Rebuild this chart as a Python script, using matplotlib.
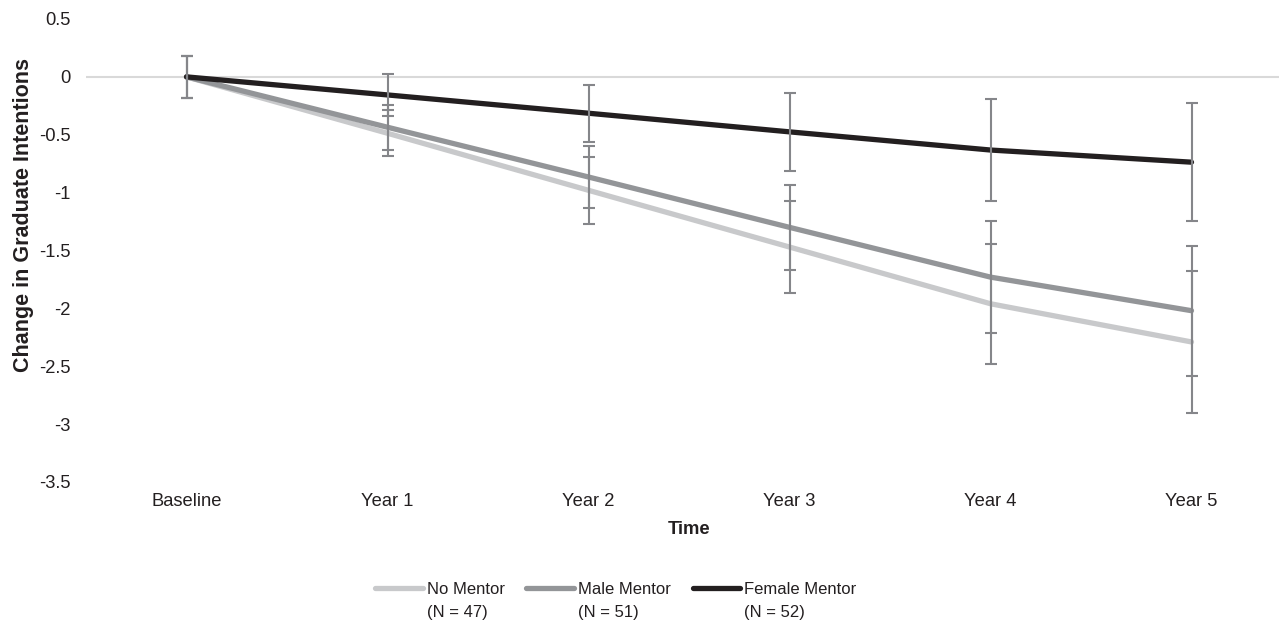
import numpy as np
import matplotlib.pyplot as plt

plt.rcParams['font.family'] = ['Liberation Sans', 'DejaVu Sans']

# data
time_labels = ["Baseline", "Year 1", "Year 2", "Year 3", "Year 4", "Year 5"]
series_names = ["No Mentor", "Male Mentor", "Female Mentor"]
series_n = ["(N = 47)", "(N = 51)", "(N = 52)"]

no_mentor = [0, -0.487, -0.98, -1.47, -1.96, -2.29]
male_mentor = [0, -0.435, -0.865, -1.30, -1.73, -2.02]
female_mentor = [0, -0.156, -0.314, -0.475, -0.632, -0.737]

no_mentor_err = [0.18, 0.20, 0.29, 0.40, 0.52, 0.61]
male_mentor_err = [0.18, 0.195, 0.27, 0.37, 0.485, 0.56]
female_mentor_err = [0.18, 0.18, 0.245, 0.34, 0.44, 0.51]

colors = ["#c8c9cb", "#939598", "#231f20"]
err_color = "#85868a"
text_color = "#231f20"
fs = 13.2
leg_fs = 12

x = np.arange(len(time_labels))

fig = plt.figure(figsize=(12.79, 6.2), dpi=100)
ax = fig.add_axes([86 / 1279, 138 / 620, 1206 / 1279, 463 / 620])

values = [no_mentor, male_mentor, female_mentor]
errors = [no_mentor_err, male_mentor_err, female_mentor_err]

ax.axhline(0, color="#d9d9d9", linewidth=1.5, zorder=1)

for vals, col, name in zip(values, colors, series_names):
    ax.plot(x, vals, color=col, linewidth=3.8, solid_capstyle="round",
            solid_joinstyle="round", label=name, zorder=3)

for vals, errs in zip(values, errors):
    ax.errorbar(x, vals, yerr=errs, fmt="none", ecolor=err_color,
                elinewidth=1.5, capsize=4.3, capthick=1.5, zorder=4)

ax.set_xlim(-0.5, 5.5)
ax.set_ylim(-3.5, 0.5)
ax.set_yticks(np.arange(-3.5, 0.51, 0.5))
ax.set_yticklabels(["-3.5", "-3", "-2.5", "-2", "-1.5", "-1", "-0.5", "0", "0.5"])
ax.set_xticks(x)
ax.set_xticklabels(time_labels)
ax.tick_params(axis="both", length=0, labelsize=fs, colors=text_color)
ax.tick_params(axis="y", pad=11)
ax.tick_params(axis="x", pad=8)
for s in ax.spines.values():
    s.set_visible(False)

ax.set_xlabel("Time", fontsize=fs, fontweight="bold", labelpad=8, color=text_color)
ax.set_ylabel("Change in Graduate Intentions", fontsize=15.5, fontweight="bold",
              color=text_color)
ax.yaxis.set_label_coords(-52 / 1206, (482 - 215) / 463)

leg = fig.legend(loc="center left", bbox_to_anchor=(375 / 1279, 1 - 589 / 620),
                 ncol=3, frameon=False, fontsize=leg_fs, handlelength=2.85,
                 handletextpad=0.25, columnspacing=1.3, borderpad=0,
                 borderaxespad=0)
for h in leg.get_lines():
    h.set_linewidth(3.8)
    h.set_solid_capstyle("round")

# second line of each legend label (N), placed under the first line
fig.canvas.draw()
W, H = fig.canvas.get_width_height()
for t, n in zip(leg.get_texts(), series_n):
    t.set_color(text_color)
    bb = t.get_window_extent()
    fig.text(bb.x0 / W, 2.5 / H, n, ha="left", va="baseline",
             fontsize=leg_fs, color=text_color)

fig.savefig("out.png", dpi=100)
